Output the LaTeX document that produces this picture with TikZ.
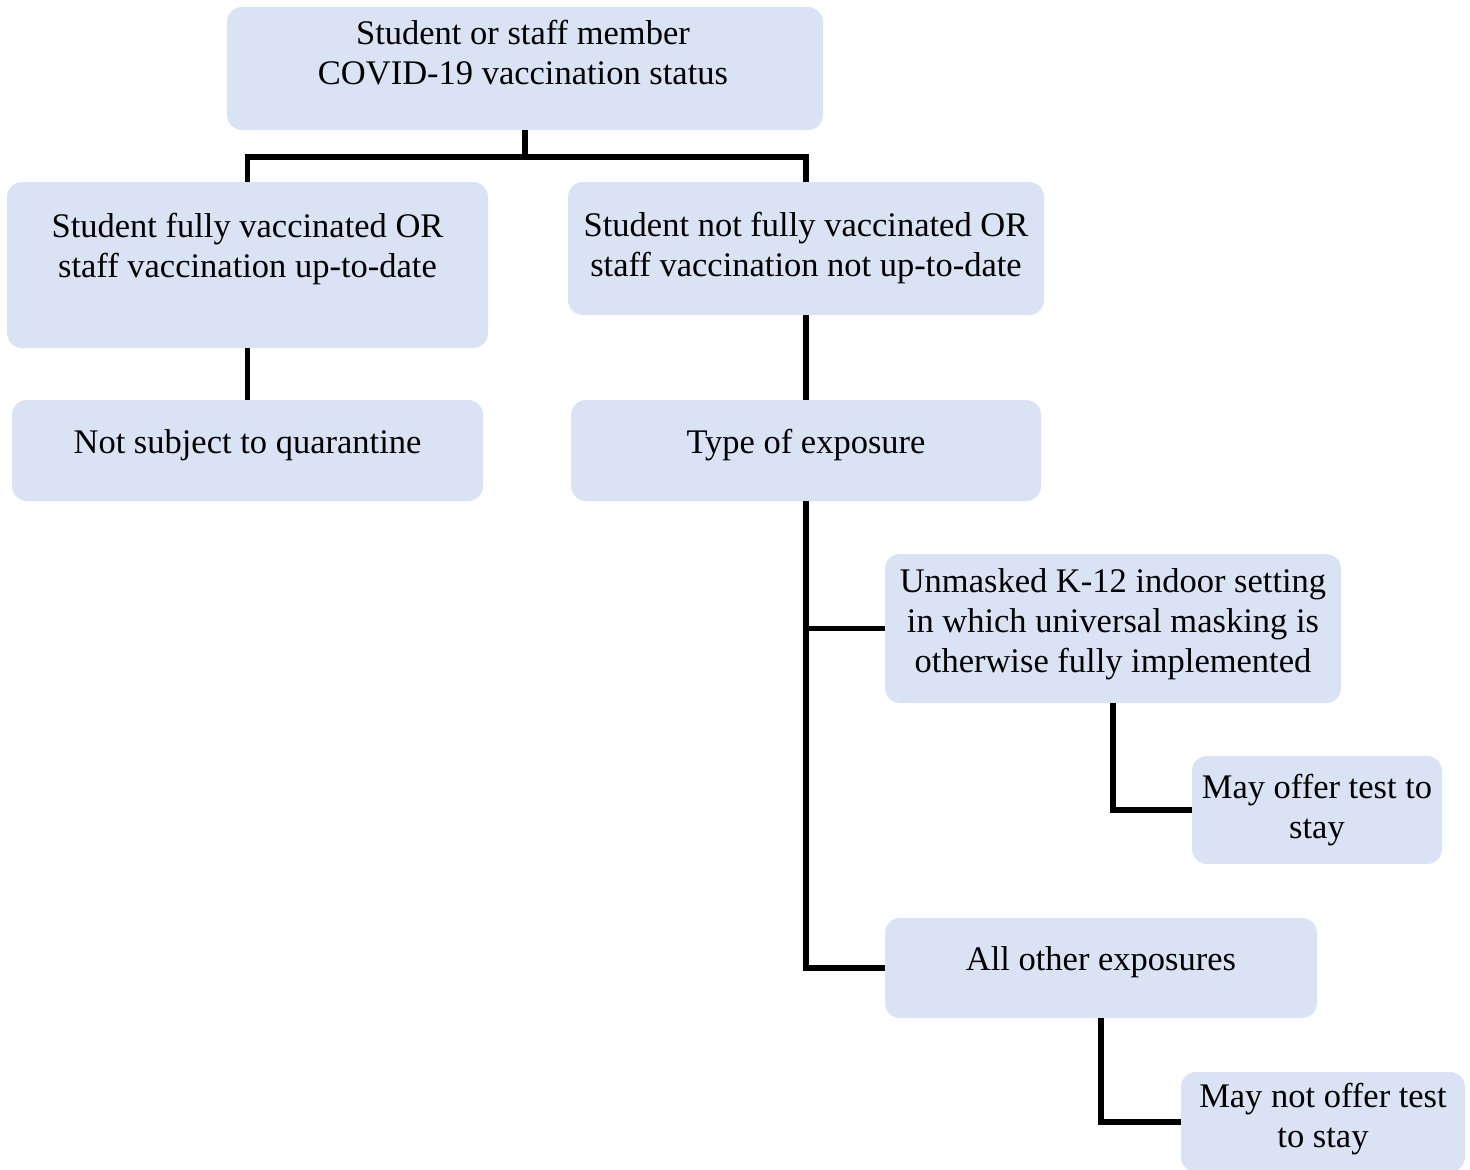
\documentclass[tikz,border=0pt]{standalone}
\usepackage{fontspec}
\setmainfont{Liberation Serif}
\definecolor{boxfill}{HTML}{DAE3F3}
\tikzset{
  box/.style={fill=boxfill, draw=none, rounded corners=15pt, inner sep=0pt},
  txt/.style={align=center, font=\fontsize{34.5}{40}\selectfont, inner sep=0pt},
  conn/.style={draw=black, line width=5.5pt, line join=miter}
}
\begin{document}
\begin{tikzpicture}[x=1pt,y=-1pt]
\path[use as bounding box] (0,0) rectangle (1470,1170);
\begin{scope}
\clip (0,0) rectangle (1470,1170);
\node[box, minimum width=596pt, minimum height=123pt] (top) at (525,68.5) {};
\node[box, minimum width=481pt, minimum height=166pt] (left) at (247.5,265) {};
\node[box, minimum width=476pt, minimum height=133pt] (right) at (806,248.5) {};
\node[box, minimum width=471pt, minimum height=101pt] (nosub) at (247.5,450.5) {};
\node[box, minimum width=470pt, minimum height=101pt] (type) at (806,450.5) {};
\node[box, minimum width=456pt, minimum height=149pt] (unmasked) at (1113,628.5) {};
\node[box, minimum width=250pt, minimum height=108pt] (mayoffer) at (1317,810) {};
\node[box, minimum width=432pt, minimum height=100pt] (other) at (1101,968) {};
\node[box, minimum width=284pt, minimum height=100pt] (maynot) at (1323,1122) {};

\node[txt] (ttop) at (523,53) {Student or staff member\\COVID-19 vaccination status};
\node[txt] (tleft) at (247.5,249) {Student fully vaccinated OR\\staff vaccination up-to-date};
\node[txt] (tright) at (806,248.5) {Student not fully vaccinated OR\\staff vaccination not up-to-date};
\node[txt] (tnosub) at (247.5,445.5) {Not subject to quarantine};
\node[txt] (ttype) at (806,445.5) {Type of exposure};
\node[txt] (tunmasked) at (1113,624.5) {Unmasked K-12 indoor setting\\in which universal masking is\\otherwise fully implemented};
\node[txt] (tmayoffer) at (1317,810) {May offer test to\\stay};
\node[txt] (tother) at (1101,962.5) {All other exposures};
\node[txt] (tmaynot) at (1323,1119.5) {May not offer test\\to stay};

\coordinate (j) at (525,157);
\draw[conn] (top.south) -- (j);
\draw[conn] (left.north) |- (j) -| (right.north);
\draw[conn] (left.south) -- (nosub.north);
\draw[conn] (right.south) -- (type.north);
\draw[conn] (type.south) |- (unmasked.west);
\draw[conn] (type.south) |- (other.west);
\draw[conn] (unmasked.south) |- (mayoffer.west);
\draw[conn] (other.south) |- (maynot.west);
\end{scope}
\end{tikzpicture}
\end{document}
